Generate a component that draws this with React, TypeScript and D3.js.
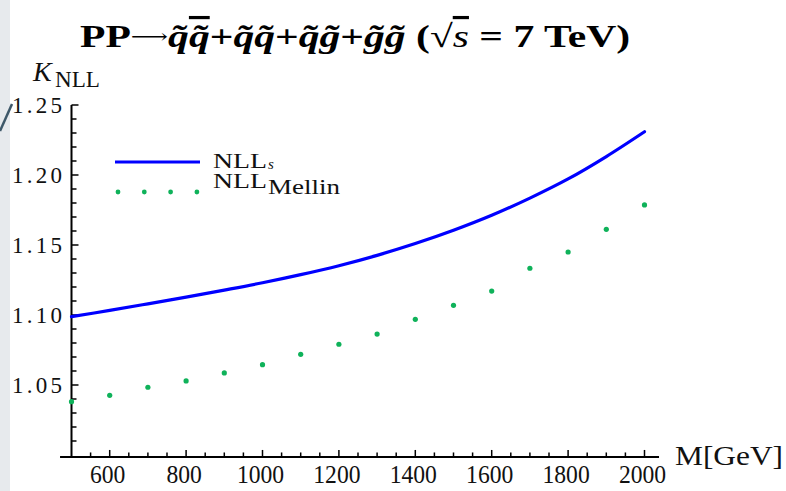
import React from 'react';
import * as d3 from 'd3';

const masses = [500, 600, 700, 800, 900, 1000, 1100, 1200, 1300, 1400, 1500, 1600, 1700, 1800, 1900, 2000];
const nllS = [1.0988, 1.1033, 1.108, 1.1128, 1.1178, 1.123, 1.1288, 1.1352, 1.1426, 1.151, 1.1605, 1.1712, 1.1835, 1.1972, 1.2132, 1.2309];
const nllMellin = [1.0381, 1.0426, 1.0484, 1.0529, 1.0586, 1.0645, 1.0719, 1.0791, 1.0864, 1.0969, 1.1069, 1.1171, 1.1334, 1.145, 1.1612, 1.1786];

const xTickValues = [600, 800, 1000, 1200, 1400, 1600, 1800, 2000];
const xTickLabels = ['600', '800', '1000', '1200', '1400', '1600', '1800', '2000'];
const yTickValues = [1.05, 1.1, 1.15, 1.2, 1.25];
const yTickLabels = ['1.05', '1.10', '1.15', '1.20', '1.25'];
const legendDots = [0, 1, 2, 3];

const SERIF = "'Liberation Serif', 'DejaVu Serif', serif";

export default function App() {
  const W = 786, H = 491;
  const x = d3.scaleLinear().domain([500, 2000]).range([71.5, 644.5]);
  const y = d3.scaleLinear().domain([1.0, 1.25]).range([455, 105]);
  const xLo = 470, xHi = 2038, yLo = 0.9986, yHi = 1.25;

  const line = d3.line<number>()
    .x((_, i) => x(masses[i]))
    .y((d) => y(d))
    .curve(d3.curveCatmullRom.alpha(0.5));

  const xMinor = d3.range(550, 2001, 50).filter((v) => v % 200 !== 0);
  const yMinor = d3.range(1, 25).map((k) => 1 + k * 0.01).filter((v) => Math.round(v * 100) % 5 !== 0);
  const axisY = y(yLo);
  const axisX = x(500);

  return (
    <svg width={W} height={H} style={{ position: 'absolute', left: 0, top: 0, background: '#fff' }}>
      <rect x={0} y={0} width={W} height={H} fill="#ffffff" />
      <rect x={0} y={0} width={10} height={H} fill="#e7eaed" />
      <line x1={0} y1={131} x2={12} y2={104} stroke="#3e5869" strokeWidth={2.5} />

      {/* Title */}
      <text transform="translate(80,47) scale(1.3,1)" fontFamily={SERIF} fontSize={32} fontWeight="bold" fill="#000">
        <tspan>PP</tspan>
        <tspan fontWeight="normal" fontSize={20} baselineShift="4">⟶</tspan>
        <tspan fontStyle="italic">q̃</tspan>
        <tspan fontStyle="italic" style={{ textDecoration: 'overline' }}>q̃</tspan>
        <tspan>+</tspan>
        <tspan fontStyle="italic">q̃q̃</tspan>
        <tspan>+</tspan>
        <tspan fontStyle="italic">q̃g̃</tspan>
        <tspan>+</tspan>
        <tspan fontStyle="italic">g̃g̃</tspan>
        <tspan> (</tspan>
        <tspan fontWeight="normal">√</tspan>
        <tspan fontStyle="italic" fontWeight="normal" style={{ textDecoration: 'overline' }}>s</tspan>
        <tspan> = 7 TeV)</tspan>
      </text>

      {/* Axes */}
      <line x1={x(xLo)} y1={axisY} x2={x(xHi)} y2={axisY} stroke="#000" strokeWidth={2} />
      <line x1={axisX} y1={y(yHi)} x2={axisX} y2={axisY} stroke="#000" strokeWidth={2} />

      {xTickValues.map((v, i) => (
        <g key={'xt' + v}>
          <line x1={x(v)} y1={axisY} x2={x(v)} y2={axisY - 7} stroke="#000" strokeWidth={1.5} />
          <text x={x(v) - 2} y={483} textAnchor="middle" fontFamily={SERIF} fontSize={25}
            textLength={xTickLabels[i].length * 11.8} lengthAdjust="spacingAndGlyphs" fill="#111">{xTickLabels[i]}</text>
        </g>
      ))}
      {xMinor.map((v) => (
        <line key={'xm' + v} x1={x(v)} y1={axisY} x2={x(v)} y2={axisY - 4.5} stroke="#000" strokeWidth={1.5} />
      ))}
      {yTickValues.map((v, i) => (
        <g key={'yt' + v}>
          <line x1={axisX} y1={y(v)} x2={axisX + 7} y2={y(v)} stroke="#000" strokeWidth={1.5} />
          <text x={62} y={y(v) + 7.5} textAnchor="end" fontFamily={SERIF} fontSize={23}
            textLength={50} lengthAdjust="spacing" fill="#111">{yTickLabels[i]}</text>
        </g>
      ))}
      {yMinor.map((v) => (
        <line key={'ym' + v} x1={axisX} y1={y(v)} x2={axisX + 5} y2={y(v)} stroke="#000" strokeWidth={1.5} />
      ))}

      {/* Axis labels */}
      <text x={33} y={81} fontFamily={SERIF} fontSize={28} fontStyle="italic" fill="#111">K</text>
      <text x={55} y={87} fontFamily={SERIF} fontSize={23} textLength={45} lengthAdjust="spacingAndGlyphs" fill="#111">NLL</text>
      <text x={675} y={465} fontFamily={SERIF} fontSize={28} textLength={108} lengthAdjust="spacingAndGlyphs" fill="#111">M[GeV]</text>

      {/* Series */}
      <path d={line(nllS) || ''} fill="none" stroke="#0000ff" strokeWidth={3.2} strokeLinecap="round" />
      {nllMellin.map((v, i) => (
        <circle key={'m' + i} cx={x(masses[i])} cy={y(v)} r={2.6} fill="#0fb25a" />
      ))}

      {/* Legend */}
      <line x1={115} y1={162} x2={200} y2={162} stroke="#0000ff" strokeWidth={3.2} />
      {legendDots.map((k) => (
        <circle key={'ld' + k} cx={118 + k * 26.3} cy={192} r={2.4} fill="#0fb25a" />
      ))}
      <text x={213} y={168} fontFamily={SERIF} fontSize={21} textLength={54} lengthAdjust="spacingAndGlyphs" fill="#111">NLL</text>
      <text x={268} y={169} fontFamily={SERIF} fontSize={15} fontStyle="italic" fill="#111">s</text>
      <text x={213} y={188} fontFamily={SERIF} fontSize={21} textLength={54} lengthAdjust="spacingAndGlyphs" fill="#111">NLL</text>
      <text x={268} y={194} fontFamily={SERIF} fontSize={20} textLength={72} lengthAdjust="spacingAndGlyphs" fill="#111">Mellin</text>
    </svg>
  );
}
